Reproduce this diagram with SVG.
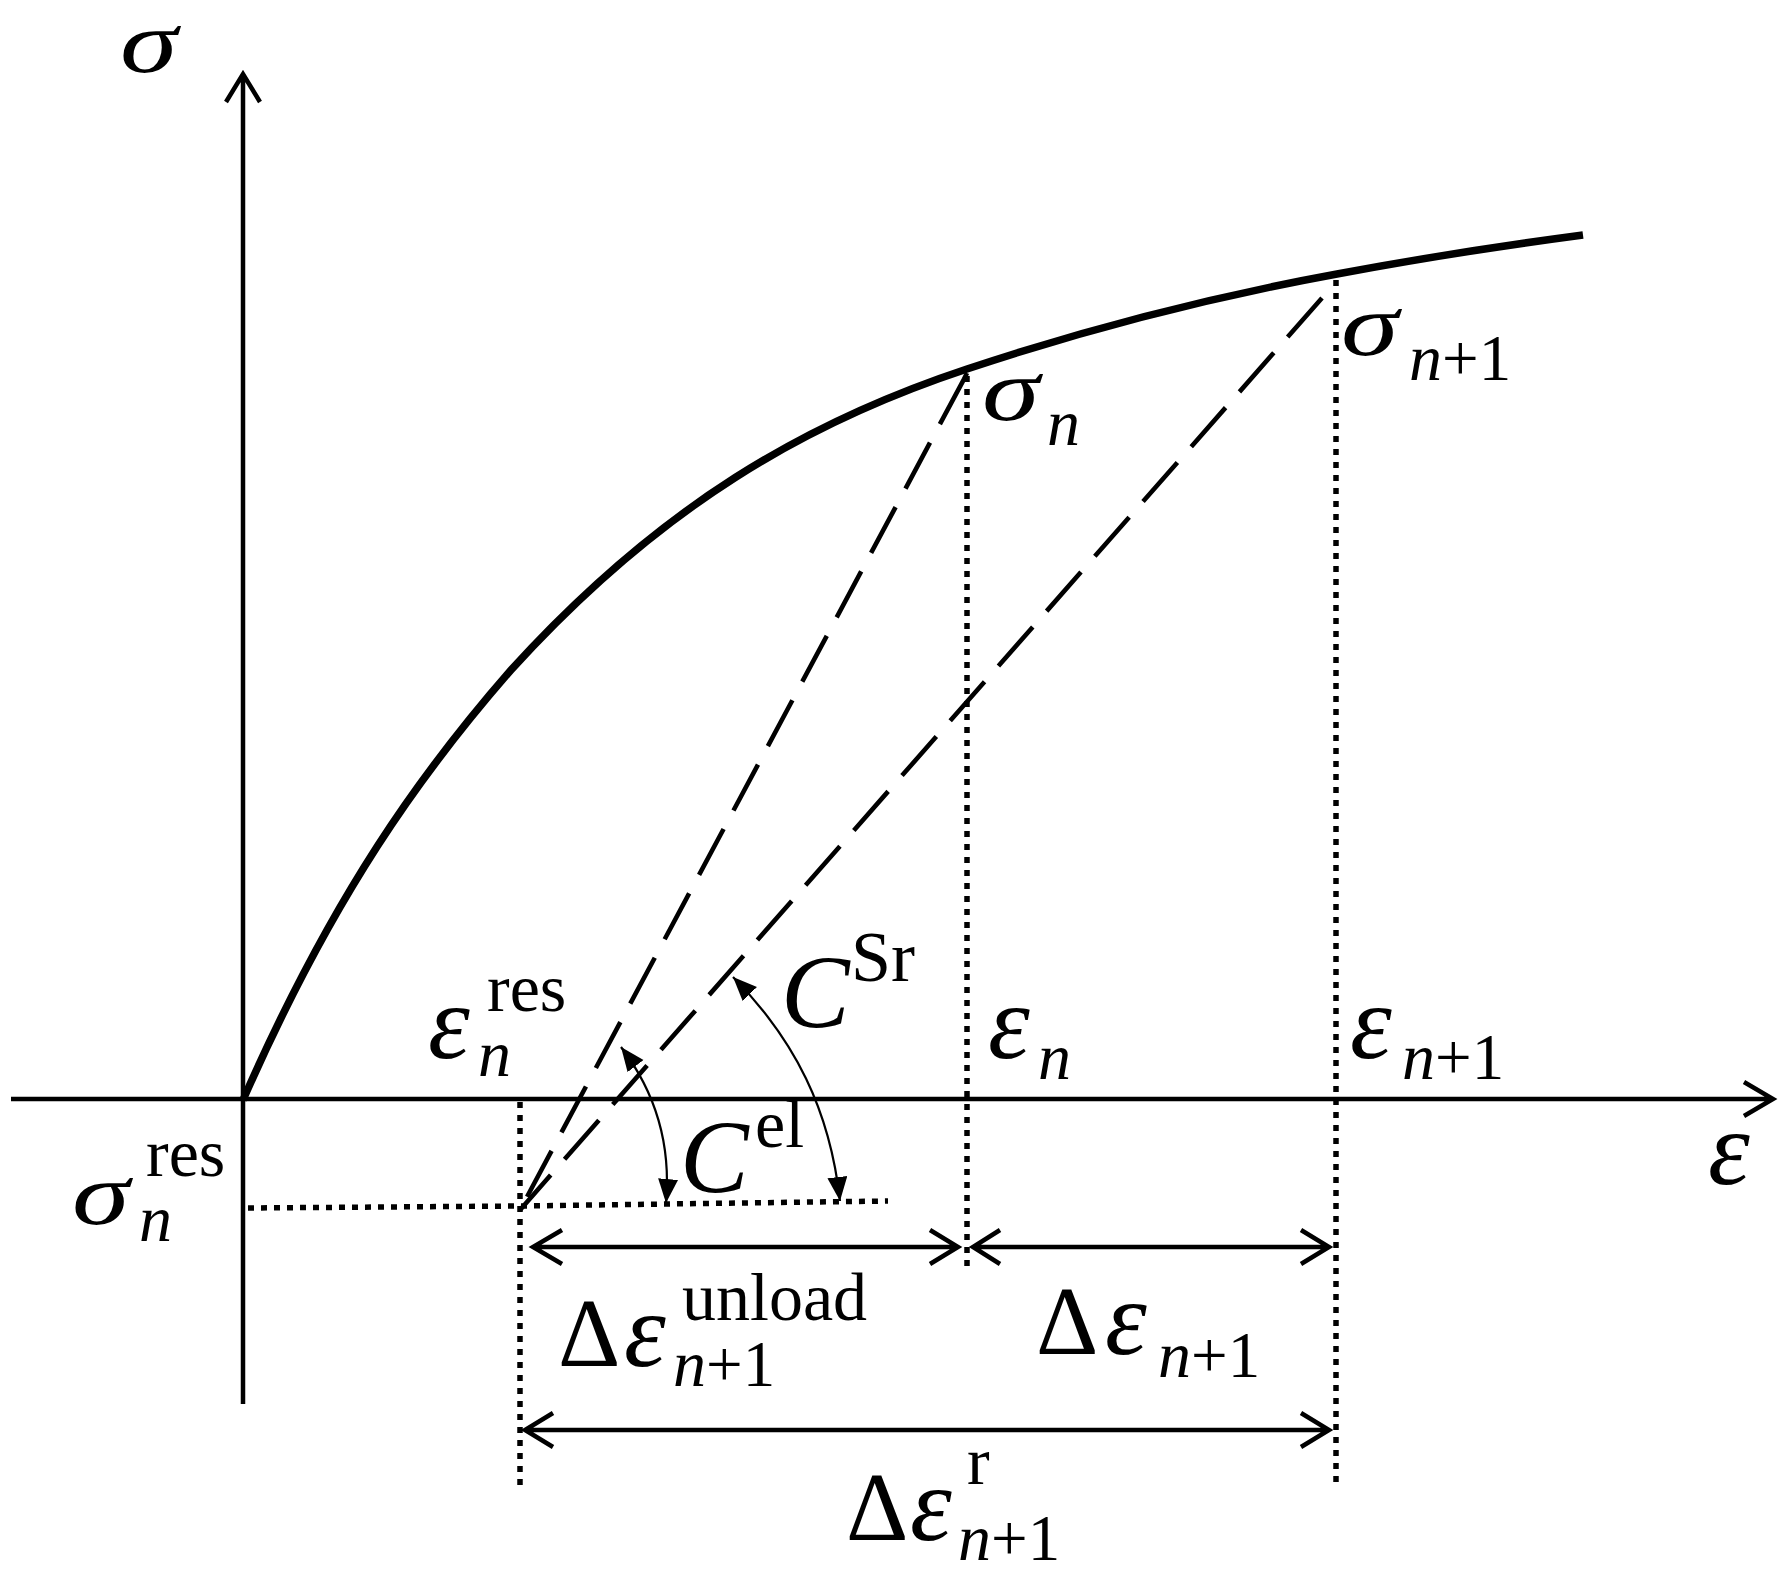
<svg xmlns="http://www.w3.org/2000/svg" width="1789" height="1593" viewBox="0 0 1789 1593">
<style>
text{font-family:"Liberation Serif","Times New Roman",serif;fill:#000}
.sig{font-size:97px;font-style:italic}
.e{font-size:106px;font-style:italic}
.c{font-size:103px;font-style:italic}
.u{font-size:97px}
.s{font-size:66px;font-style:italic}
.d{font-size:65px;font-style:normal}
.p{font-size:68px}
.sr{font-size:72px}
.ax{fill:none;stroke:#000;stroke-width:4.5}
.dim{fill:none;stroke:#000;stroke-width:4.5}
.dash{fill:none;stroke:#000;stroke-width:4.6;stroke-dasharray:52 21}
.dot{fill:none;stroke:#000;stroke-width:5.5;stroke-dasharray:6 7}
.arc{fill:none;stroke:#000;stroke-width:2.2}
</style>
<defs>
<marker id="tri" markerUnits="userSpaceOnUse" markerWidth="26" markerHeight="24" refX="24" refY="10" orient="auto-start-reverse"><path d="M0 0L24 10L0 20z" fill="#000"/></marker>
</defs>
<rect width="1789" height="1593" fill="#fff"/>
<g id="connectors">
<path id="y-axis" class="ax" d="M243 1404V74M226 102L243 74L260 102"/>
<path id="x-axis" class="ax" d="M11 1099H1771M1744 1082L1773 1099L1744 1116"/>
<path id="curve" fill="none" stroke="#000" stroke-width="7.5" d="M243 1100C333 895 421 773 511 670C661 505 807 422 967 369C1087 329 1217 296 1337 274C1417 259 1500 246 1583 235"/>
<path id="dashed-n" class="dash" d="M967 373L964 379M964.4 378.3L520 1210"/>
<path id="dashed-n1" class="dash" d="M1322 298L520 1210"/>
<path id="dot-n" class="dot" d="M967 376V1268"/>
<path id="dot-n1" class="dot" d="M1336 280V1488"/>
<path id="dot-res" class="dot" d="M520 1102V1489"/>
<path id="dot-sigma-res" class="dot" d="M248 1208L520 1206L888 1201"/>
<path id="dim-unload" class="dim" d="M533 1247H958M562 1230L533 1247L562 1264M930 1230L958 1247L930 1264"/>
<path id="dim-n1" class="dim" d="M973 1247H1329M1000 1230L973 1247L1000 1264M1301 1230L1329 1247L1301 1264"/>
<path id="dim-r" class="dim" d="M525 1430H1329M553 1413L525 1430L553 1447M1301 1413L1329 1430L1301 1447"/>
<path id="arc-el" class="arc" marker-start="url(#tri)" marker-end="url(#tri)" d="M621 1047C650 1085 672 1135 666 1203"/>
<path id="arc-sr" class="arc" marker-start="url(#tri)" marker-end="url(#tri)" d="M733 977C795 1040 830 1110 840 1201"/>
</g>
<g id="label-sigma"><text class="sig" transform="translate(120 72) scale(1.2 .92)">σ</text></g>
<g id="label-sigma-n"><text class="sig" transform="translate(982 420) scale(1.2 .92)">σ</text><text class="s" x="1047" y="445">n</text></g>
<g id="label-sigma-n1"><text class="sig" transform="translate(1341 355) scale(1.2 .92)">σ</text><text class="s" x="1409" y="380">n<tspan class="d">+1</tspan></text></g>
<g id="label-eps-n-res"><text class="e" x="428" y="1058">ε</text><text class="s" x="478" y="1076">n</text><text class="p" x="487" y="1011">res</text></g>
<g id="label-sigma-n-res"><text class="sig" transform="translate(72 1224) scale(1.2 .92)">σ</text><text class="s" x="139" y="1241">n</text><text class="p" x="146" y="1176">res</text></g>
<g id="label-c-sr"><text class="c" x="781" y="1027">C</text><text class="sr" x="851" y="981">Sr</text></g>
<g id="label-c-el"><text class="c" x="680" y="1192">C</text><text class="p" x="755" y="1147">el</text></g>
<g id="label-eps-n"><text class="e" x="988" y="1058">ε</text><text class="s" x="1038" y="1079">n</text></g>
<g id="label-eps-n1"><text class="e" x="1350" y="1058">ε</text><text class="s" x="1402" y="1079">n<tspan class="d">+1</tspan></text></g>
<g id="label-eps"><text class="e" x="1708" y="1184">ε</text></g>
<g id="label-d-unload"><text class="u" x="558" y="1366">Δ</text><text class="e" x="624" y="1366">ε</text><text class="p" x="682" y="1320">unload</text><text class="s" x="673" y="1386">n<tspan class="d">+1</tspan></text></g>
<g id="label-d-n1"><text class="u" x="1036" y="1354">Δ</text><text class="e" x="1105" y="1354">ε</text><text class="s" x="1158" y="1377">n<tspan class="d">+1</tspan></text></g>
<g id="label-d-r"><text class="u" x="846" y="1540">Δ</text><text class="e" x="910" y="1540">ε</text><text class="p" x="967" y="1484">r</text><text class="s" x="958" y="1560">n<tspan class="d">+1</tspan></text></g>
</svg>
